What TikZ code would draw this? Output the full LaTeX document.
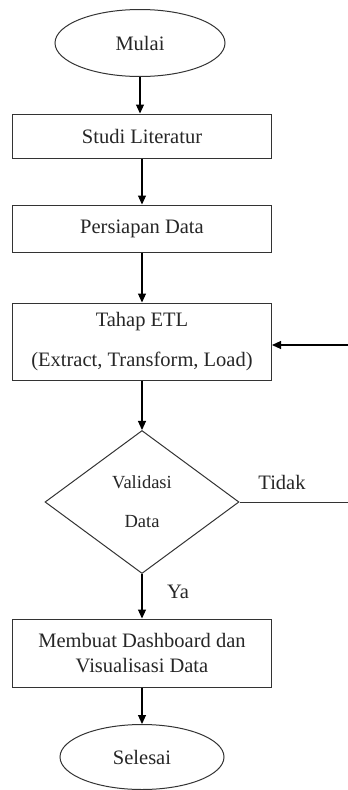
\documentclass[tikz,border=0pt]{standalone}
\usepackage{fontspec}
\setmainfont{Liberation Serif}
\usetikzlibrary{shapes.geometric,arrows.meta}
\begin{document}
\begin{tikzpicture}[x=1pt,y=-1pt,
  every node/.style={text=black!85},
  boxnode/.style={draw=black!80,line width=1pt,rectangle,minimum width=259pt,inner sep=0pt,align=center,font=\fontsize{20.5}{25}\selectfont},
  ovalnode/.style={draw=black!80,line width=1pt,ellipse,inner sep=0pt,font=\fontsize{20.5}{25}\selectfont},
  decnode/.style={draw=black!80,line width=1pt,diamond,aspect=1.36,minimum width=194pt,minimum height=143pt,inner sep=0pt,align=center,font=\fontsize{18.5}{22}\selectfont},
  lbl/.style={font=\fontsize{20.5}{25}\selectfont,inner sep=0pt},
  flow/.style={draw=black,line width=1.1pt,-{Triangle[width=8pt,length=9pt]}},
  plain/.style={draw=black!80,line width=1pt}]
\useasboundingbox (0,0) rectangle (348,790);
\node[ovalnode,minimum width=170pt,minimum height=67pt] (mulai) at (140,43) {Mulai};
\node[boxnode,minimum height=44pt] (studi) at (142,136) {Studi Literatur};
\node[boxnode,minimum height=47pt] (persiapan) at (142,228.5) {Persiapan Data};
\node[boxnode,minimum height=77pt] (etl) at (142,341.5) {Tahap ETL\\[15pt](Extract, Transform, Load)};
\node[decnode] (valid) at (142,502) {Validasi\\[17pt]Data};
\node[boxnode,minimum height=68pt] (dash) at (142,653) {Membuat Dashboard dan\\Visualisasi Data};
\node[ovalnode,minimum width=164pt,minimum height=65pt] (selesai) at (142,757) {Selesai};
\coordinate (inR) at (348,345);
\coordinate (outR) at (348,502);
\node[lbl] (tidak) at (282,482) {Tidak};
\node[lbl] (ya) at (178,592) {Ya};
\draw[flow] (mulai.south) -- (mulai.south |- studi.north);
\draw[flow] (studi) -- (persiapan);
\draw[flow] (persiapan) -- (etl);
\draw[flow] (etl) -- (valid);
\draw[flow] (valid) -- (dash);
\draw[flow] (dash) -- (selesai);
\draw[plain] (valid.east) -- (outR);
\draw[flow] (inR) -- (etl.east |- inR);
\end{tikzpicture}
\end{document}
